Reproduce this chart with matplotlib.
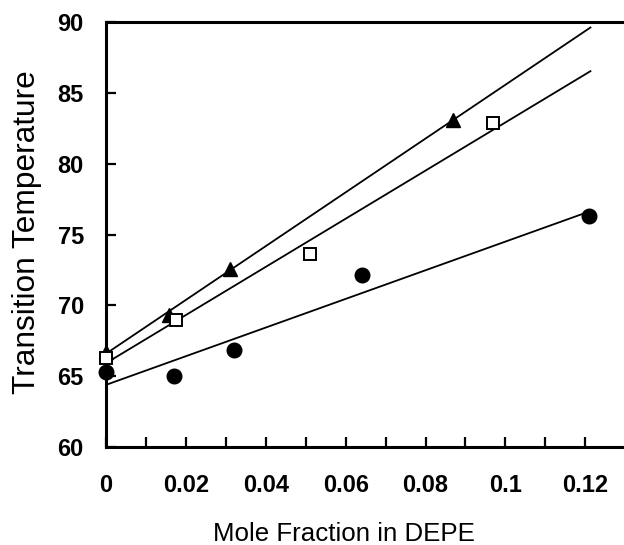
import numpy as np
import matplotlib
matplotlib.use("Agg")
import matplotlib.pyplot as plt
from matplotlib.ticker import MultipleLocator, FuncFormatter

plt.rcParams['font.family'] = ['Liberation Sans', 'DejaVu Sans']

# data
tri_x = [0.0, 0.0158, 0.031, 0.087]
tri_y = [66.7, 69.35, 72.6, 83.1]
sq_x = [0.0, 0.0175, 0.051, 0.097]
sq_y = [66.3, 69.0, 73.6, 82.9]
ci_x = [0.0, 0.017, 0.032, 0.064, 0.121]
ci_y = [65.3, 65.0, 66.85, 72.15, 76.3]
line_x_end = 0.1213

fig = plt.figure(figsize=(6.24, 5.45), dpi=100)
ax = fig.add_axes([0.1699, 0.1798, 1.0 - 0.1699, 0.9596 - 0.1798])

xs = np.array([0.0, line_x_end])
for x, y in [(tri_x, tri_y), (sq_x, sq_y), (ci_x, ci_y)]:
    m, b = np.polyfit(x, y, 1)
    ax.plot(xs, m * xs + b, color='black', lw=1.3, zorder=2)

ax.plot(tri_x, tri_y, '^', color='black', ms=10, zorder=3, clip_on=False)
ax.plot(sq_x, sq_y, 's', mfc='white', mec='black', mew=1.4, ms=9, zorder=3, clip_on=False)
ax.plot(ci_x, ci_y, 'o', color='black', ms=10.5, zorder=3, clip_on=False)

ax.set_xlim(0, 0.1297)
ax.set_ylim(60, 90)
ax.xaxis.set_major_locator(MultipleLocator(0.02))
ax.xaxis.set_minor_locator(MultipleLocator(0.01))
ax.yaxis.set_major_locator(MultipleLocator(5))
ax.xaxis.set_major_formatter(FuncFormatter(lambda v, p: ('%g' % round(v, 4))))

for s in ['top', 'left', 'bottom']:
    ax.spines[s].set_linewidth(2.2)
ax.spines['right'].set_visible(False)

ax.tick_params(axis='both', which='both', direction='in', length=7, width=1.6)
ax.tick_params(axis='x', which='both', top=False, pad=19.5)
ax.tick_params(axis='y', which='both', right=False, pad=16)
for lab in ax.get_xticklabels() + ax.get_yticklabels():
    lab.set_fontsize(17)
    lab.set_fontweight('bold')

ax.set_xlabel('Mole Fraction in DEPE', fontsize=18.6)
ax.set_ylabel('Transition Temperature', fontsize=22.8)
ax.xaxis.set_label_coords(0.4585, -0.1753)
ax.yaxis.set_label_coords(-0.124, 0.5047)

fig.savefig('out.png', dpi=100)
